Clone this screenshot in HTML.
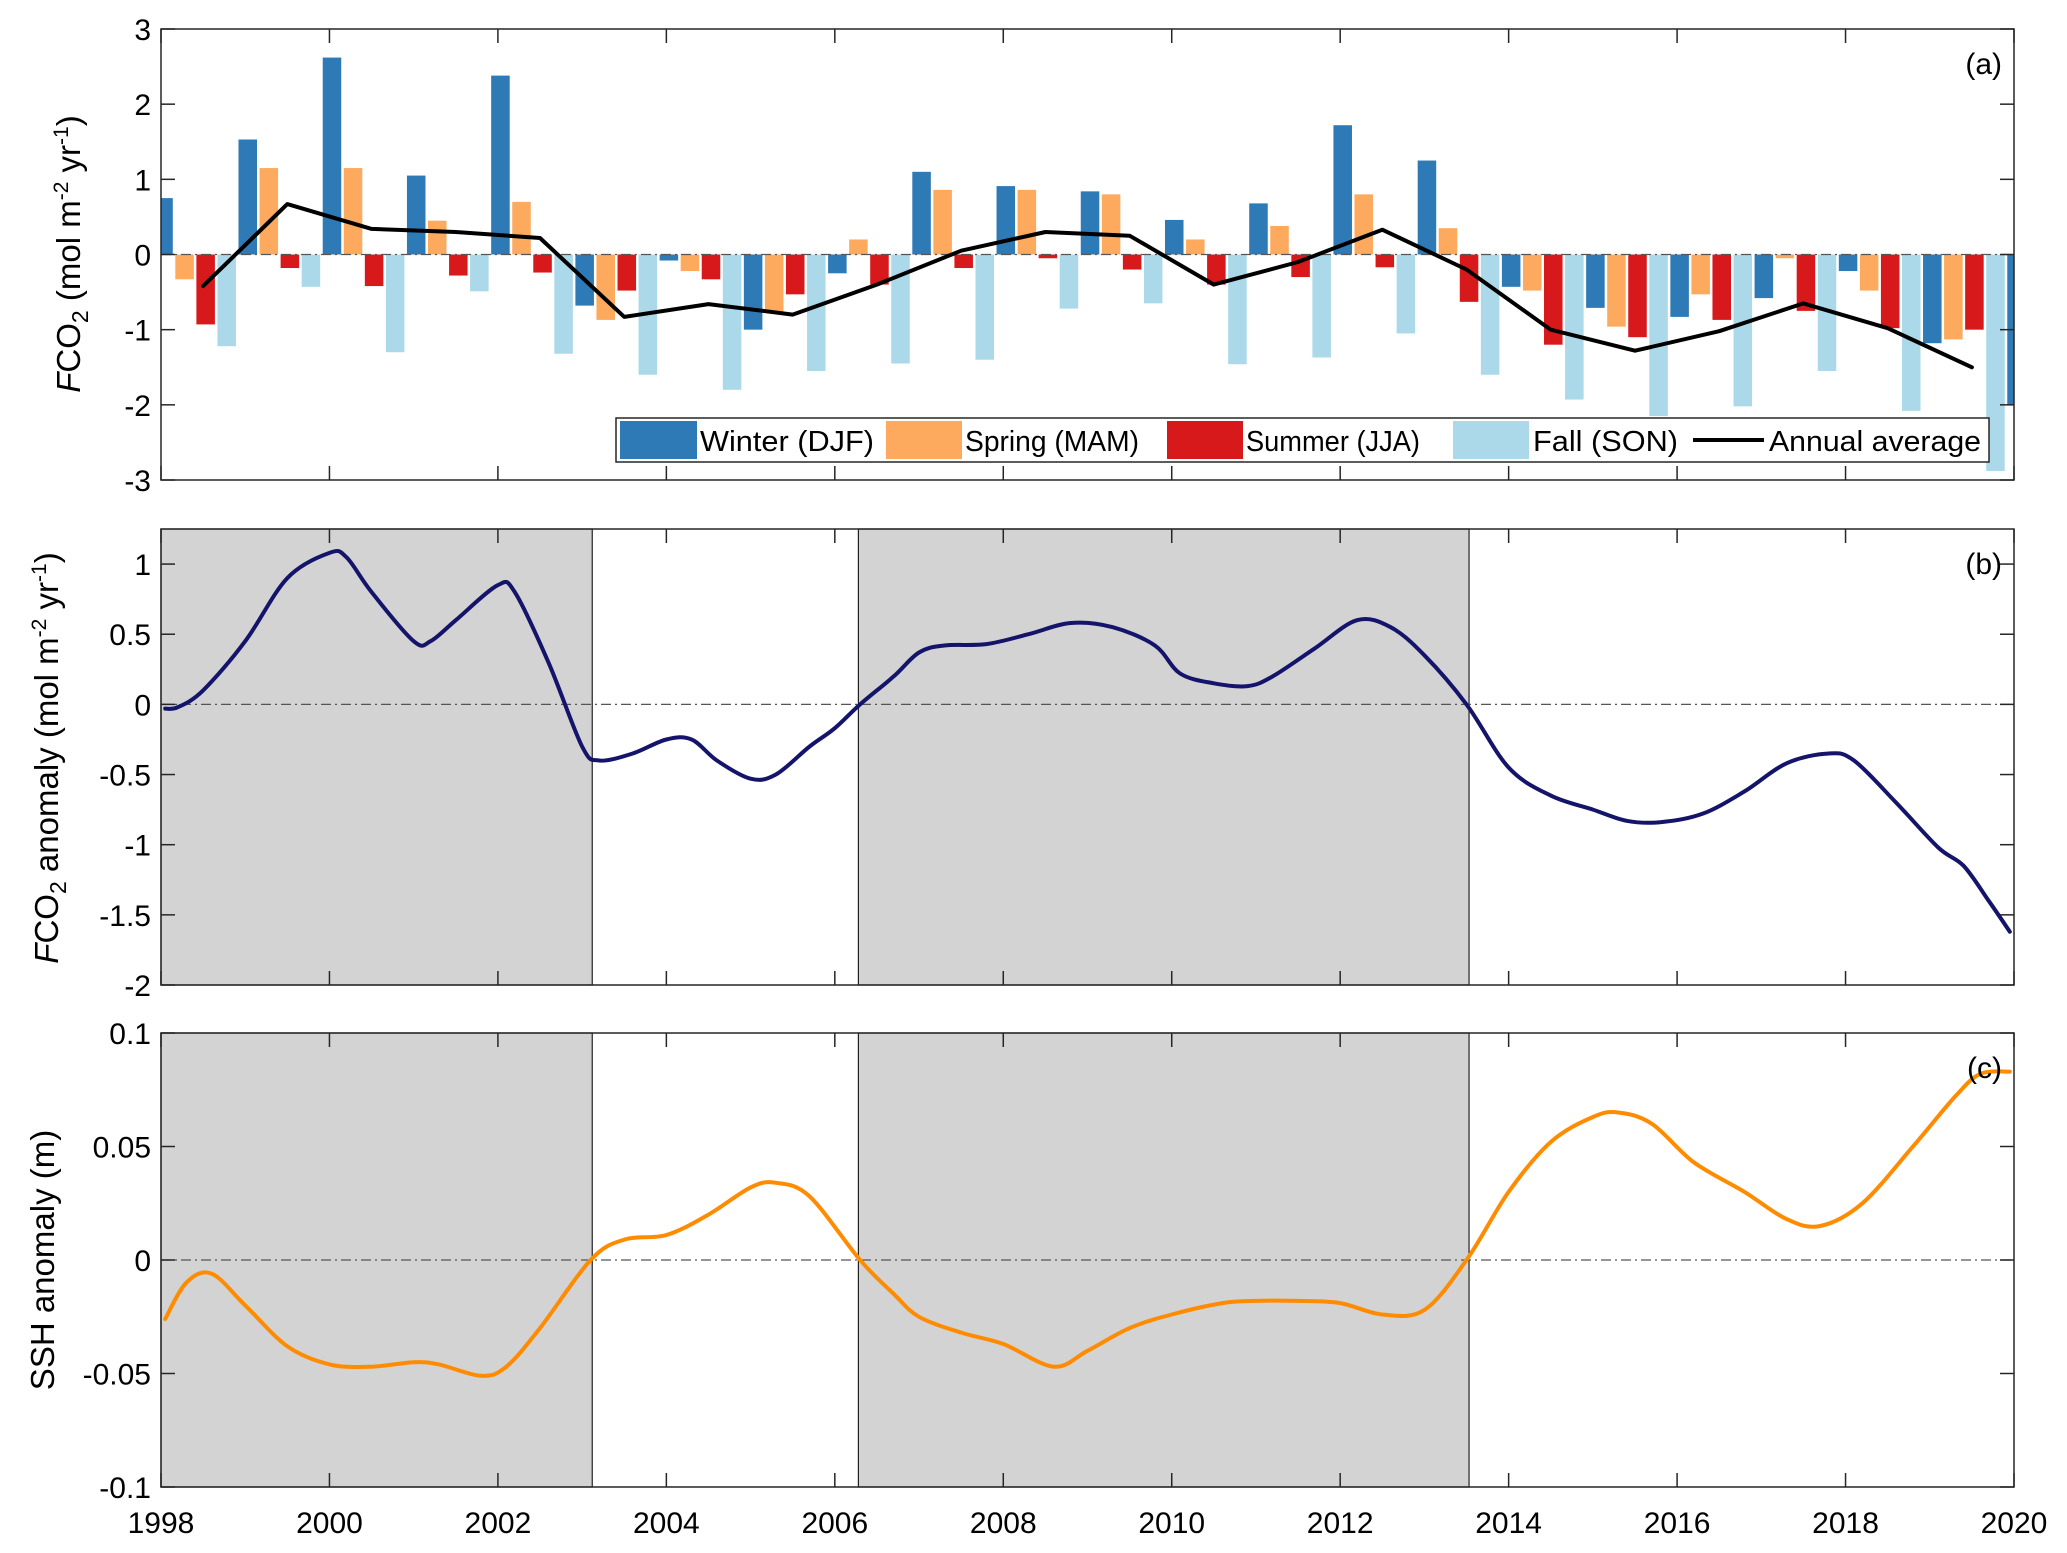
<!DOCTYPE html>
<html><head><meta charset="utf-8"><style>body{margin:0;background:#fff}svg{display:block;font-family:"Liberation Sans",sans-serif}</style></head>
<body>
<svg id="chart" width="2067" height="1553" viewBox="0 0 2067 1553"></svg>
<script>
const years=[1998,1999,2000,2001,2002,2003,2004,2005,2006,2007,2008,2009,2010,2011,2012,2013,2014,2015,2016,2017,2018,2019,2020];
const winter=[0.75,1.53,2.62,1.05,2.38,-0.68,-0.08,-1.0,-0.25,1.1,0.91,0.84,0.46,0.68,1.72,1.25,-0.43,-0.71,-0.83,-0.58,-0.22,-1.18,-2.0];
const spring=[-0.33,1.15,1.15,0.45,0.7,-0.87,-0.22,-0.76,0.2,0.86,0.86,0.8,0.2,0.38,0.8,0.35,-0.48,-0.96,-0.53,-0.05,-0.48,-1.13];
const summer=[-0.93,-0.18,-0.42,-0.28,-0.24,-0.48,-0.33,-0.53,-0.4,-0.18,-0.05,-0.2,-0.4,-0.3,-0.17,-0.63,-1.2,-1.1,-0.87,-0.75,-0.98,-1.0];
const fall=[-1.22,-0.43,-1.3,-0.49,-1.32,-1.6,-1.8,-1.55,-1.45,-1.4,-0.72,-0.65,-1.46,-1.37,-1.05,-1.6,-1.93,-2.15,-2.02,-1.55,-2.08,-2.88];
const annual=[-0.42,0.67,0.34,0.3,0.22,-0.83,-0.66,-0.8,-0.4,0.05,0.3,0.25,-0.4,-0.1,0.33,-0.2,-1.0,-1.28,-1.02,-0.65,-0.98,-1.5];
const bTimes=[1998.05,1998.2,1998.5,1999,1999.5,2000,2000.2,2000.5,2001,2001.2,2001.5,2002,2002.2,2002.6,2003,2003.2,2003.6,2004,2004.3,2004.6,2005,2005.3,2005.7,2006,2006.3,2006.7,2007,2007.3,2007.8,2008.3,2008.8,2009.3,2009.8,2010.1,2010.5,2010.9,2011.2,2011.7,2012.2,2012.6,2013,2013.5,2014,2014.5,2015,2015.4,2015.8,2016.3,2016.8,2017.3,2017.8,2018.1,2018.6,2019.1,2019.4,2019.7,2019.95];
const bVals=[-0.03,-0.02,0.1,0.45,0.9,1.08,1.05,0.8,0.45,0.45,0.6,0.85,0.8,0.3,-0.3,-0.4,-0.35,-0.25,-0.25,-0.4,-0.53,-0.5,-0.3,-0.17,0,0.2,0.37,0.42,0.43,0.5,0.58,0.55,0.42,0.22,0.15,0.13,0.2,0.4,0.6,0.55,0.35,0,-0.45,-0.65,-0.75,-0.83,-0.84,-0.78,-0.62,-0.42,-0.35,-0.4,-0.7,-1.02,-1.15,-1.4,-1.62];
const cTimes=[1998.05,1998.3,1998.6,1999,1999.5,2000,2000.5,2001,2001.3,2001.8,2002.1,2002.5,2003.1,2003.5,2004,2004.5,2005,2005.3,2005.7,2006.3,2006.7,2007,2007.5,2008,2008.6,2009,2009.5,2010,2010.6,2011,2011.5,2012,2012.5,2013,2013.5,2014,2014.5,2015,2015.3,2015.7,2016.2,2016.8,2017.3,2017.7,2018.2,2018.8,2019.3,2019.6,2019.95];
const cVals=[-0.026,-0.01,-0.006,-0.02,-0.038,-0.046,-0.047,-0.045,-0.046,-0.051,-0.047,-0.03,0,0.009,0.011,0.02,0.032,0.034,0.028,0,-0.015,-0.025,-0.032,-0.037,-0.047,-0.04,-0.03,-0.024,-0.019,-0.018,-0.018,-0.019,-0.024,-0.022,0,0.03,0.052,0.063,0.065,0.06,0.043,0.03,0.018,0.015,0.025,0.05,0.072,0.082,0.083];
const shadeStart=[1998,2006.28];
const shadeEnd=[2003.12,2013.53];
const xTicks=[1998,2000,2002,2004,2006,2008,2010,2012,2014,2016,2018,2020];
const aTicks=[3,2,1,0,-1,-2,-3];
const bTicks=[1,0.5,0,-0.5,-1,-1.5,-2];
const cTicks=[0.1,0.05,0,-0.05,-0.1];

const NS='http://www.w3.org/2000/svg';
const svg=document.getElementById('chart');
const L=161,R=2014;
const X=t=>L+(t-1998)/22*(R-L);
function mk(tag,at,parent){const e=document.createElementNS(NS,tag);for(const k in at)e.setAttribute(k,at[k]);(parent||svg).appendChild(e);return e;}
function panel(name,top,bot,ymin,ymax,ticks){
  const g=mk('g',{});
  
  
  const Y=v=>bot-(v-ymin)/(ymax-ymin)*(bot-top);
  return {g,Y,top,bot,ticks};
}
function axes(p){
  const f=mk('rect',{x:L,y:p.top,width:R-L,height:p.bot-p.top,fill:'none',stroke:'#262626','stroke-width':1.5},p.g);
  
  
  xTicks.forEach(t=>{
    mk('line',{x1:X(t),x2:X(t),y1:p.bot,y2:p.bot-14,stroke:'#262626','stroke-width':1.5},p.g);
    mk('line',{x1:X(t),x2:X(t),y1:p.top,y2:p.top+14,stroke:'#262626','stroke-width':1.5},p.g);
  });
  p.ticks.forEach(v=>{
    mk('line',{x1:L,x2:L+14,y1:p.Y(v),y2:p.Y(v),stroke:'#262626','stroke-width':1.5},p.g);
    mk('line',{x1:R,x2:R-14,y1:p.Y(v),y2:p.Y(v),stroke:'#262626','stroke-width':1.5},p.g);
    const tx=mk('text',{x:L-10,y:p.Y(v)+11,'text-anchor':'end','font-size':30,fill:'#000'},p.g);
    tx.textContent=String(v);
    
    
  });
}
function zeroLine(p){
  const z=mk('line',{x1:L,x2:R,y1:p.Y(0),y2:p.Y(0),stroke:'#555','stroke-width':1.3,'stroke-dasharray':'10 4 2 4'},p.g);
  
  
}
function shades(p){
  for(let i=0;i<shadeStart.length;i++){
    const r=mk('rect',{x:X(shadeStart[i]),y:p.top,width:X(shadeEnd[i])-X(shadeStart[i]),height:p.bot-p.top,fill:'#d3d3d3',stroke:'#222','stroke-width':1.2},p.g);
    
    
  }
}
function curve(p,ts,vs,color,name,smooth){
  const pts=ts.map((t,i)=>[X(t),p.Y(vs[i])]);
  let d='M'+pts[0][0].toFixed(1)+','+pts[0][1].toFixed(1);
  for(let i=0;i<pts.length-1;i++){
    if(!smooth){d+=' L'+pts[i+1][0].toFixed(1)+','+pts[i+1][1].toFixed(1);continue;}
    const p0=pts[Math.max(i-1,0)],p1=pts[i],p2=pts[i+1],p3=pts[Math.min(i+2,pts.length-1)];
    const c1=[p1[0]+(p2[0]-p0[0])/6,p1[1]+(p2[1]-p0[1])/6];
    const c2=[p2[0]-(p3[0]-p1[0])/6,p2[1]-(p3[1]-p1[1])/6];
    d+=` C${c1[0].toFixed(1)},${c1[1].toFixed(1)} ${c2[0].toFixed(1)},${c2[1].toFixed(1)} ${p2[0].toFixed(1)},${p2[1].toFixed(1)}`;
  }
  const c=mk('path',{d,fill:'none',stroke:color,'stroke-width':4,'stroke-linejoin':'round','stroke-linecap':'round'},p.g);
  
  
}
function ylabel(x,y,html,name){
  const t=mk('text',{x:0,y:0,transform:`translate(${x},${y}) rotate(-90)`,'text-anchor':'middle','font-size':33},svg);
  t.innerHTML=html;
  
  
}
function plabel(p,txt){
  const t=mk('text',{x:R-12,y:p.top+45,'text-anchor':'end','font-size':30},p.g);
  t.textContent=txt;
  
  
}

// Panel a
const a=panel('panel-a-bars',29,480,-3,3,aTicks);
const clip=mk('clipPath',{id:'clipA'});mk('rect',{x:L,y:29,width:R-L,height:451},clip);
const bars=mk('g',{'clip-path':'url(#clipA)'},a.g);
const series=[[winter,'#2e7ab6',0.03,'bar-winter'],[spring,'#fdaa5e',0.28,'bar-spring'],[summer,'#d7191c',0.53,'bar-summer'],[fall,'#abd9e9',0.78,'bar-fall']];
series.forEach(([vals,col,off,nm])=>{
  vals.forEach((v,i)=>{
    const c=years[i]+off, w=0.22;
    const y0=a.Y(Math.max(v,0)), y1=a.Y(Math.min(v,0));
    const r=mk('rect',{x:X(c-w/2),y:y0,width:X(c+w/2)-X(c-w/2),height:y1-y0,fill:col},bars);
    
    
  });
});
zeroLine(a);
curve(a,annual.map((v,i)=>years[i]+0.5),annual,'#000','annual-average-line',false);
axes(a);
plabel(a,'(a)');
const lg=mk('g',{},a.g);


const LY=418,LH=44;
mk('rect',{x:616,y:LY,width:1373,height:LH,fill:'#fff',stroke:'#262626','stroke-width':1.5},lg);
const leg=[['Winter (DJF)','#2e7ab6',620,700],['Spring (MAM)','#fdaa5e',886,965],['Summer (JJA)','#d7191c',1167,1246],['Fall (SON)','#abd9e9',1453,1533]];
leg.forEach(([t,c,x0,tx])=>{
  const r=mk('rect',{x:x0,y:LY+3,width:x0===620?77:76,height:LH-6,fill:c},lg);
  
  
  const te=mk('text',{x:tx,y:LY+33,'font-size':29,textLength:t.length*14.5,lengthAdjust:'spacingAndGlyphs'},lg);
  te.textContent=t;
  
  
});
mk('line',{x1:1693,x2:1764,y1:LY+LH/2,y2:LY+LH/2,stroke:'#000','stroke-width':4},lg);
const at=mk('text',{x:1769,y:LY+33,'font-size':29,textLength:212,lengthAdjust:'spacingAndGlyphs'},lg);
at.textContent='Annual average';



// Panel b
const b=panel('panel-b-fco2-anomaly',529,985,-2,1.25,bTicks);
shades(b);zeroLine(b);
curve(b,bTimes,bVals,'#14146b','fco2-anomaly-line',true);
axes(b);plabel(b,'(b)');

// Panel c
const c=panel('panel-c-ssh-anomaly',1033,1487,-0.1,0.1,cTicks);
shades(c);zeroLine(c);
curve(c,cTimes,cVals,'#ff8c00','ssh-anomaly-line',true);
axes(c);plabel(c,'(c)');

xTicks.forEach(t=>{
  const tx=mk('text',{x:X(t),y:1533,'text-anchor':'middle','font-size':30});
  tx.textContent=String(t);
  
  
});
ylabel(80,254,'<tspan font-style="italic">F</tspan>CO<tspan font-size="23" dy="8">2</tspan><tspan dy="-8"> (mol m</tspan><tspan font-size="21" dy="-12">-2</tspan><tspan dy="12"> yr</tspan><tspan font-size="21" dy="-12">-1</tspan><tspan dy="12">)</tspan>','y-axis-title-a');
ylabel(58,758,'<tspan font-style="italic">F</tspan>CO<tspan font-size="23" dy="8">2</tspan><tspan dy="-8"> anomaly (mol m</tspan><tspan font-size="21" dy="-12">-2</tspan><tspan dy="12"> yr</tspan><tspan font-size="21" dy="-12">-1</tspan><tspan dy="12">)</tspan>','y-axis-title-b');
ylabel(54,1260,'SSH anomaly (m)','y-axis-title-c');
</script>
</body></html>
